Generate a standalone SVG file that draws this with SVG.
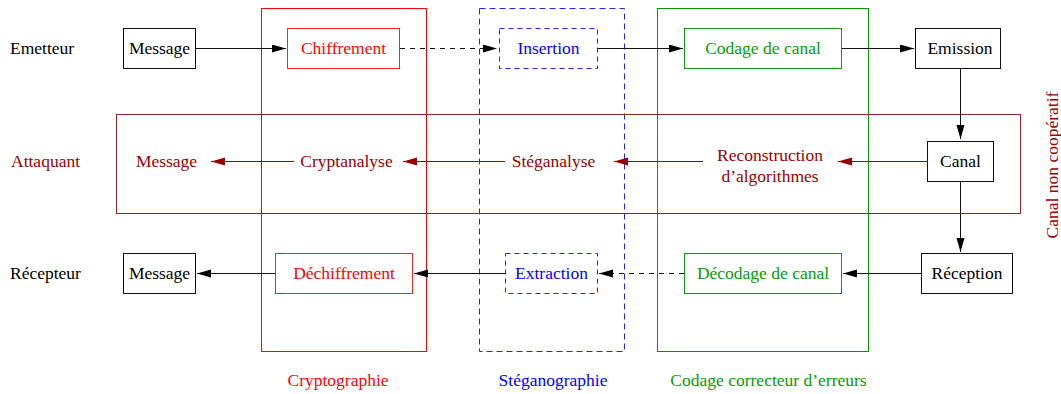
<svg xmlns="http://www.w3.org/2000/svg" width="1061" height="394" viewBox="0 0 1061 394">
<style>
text{font-family:"Liberation Serif","Times New Roman",serif;font-size:17.5px}
.c{text-anchor:middle}
.blk{fill:#000}
.red{fill:#ff0000}
.blu{fill:#0000ff}
.grn{fill:#00a000}
.dr{fill:#990000}
.box{fill:#fff;stroke:#111;stroke-width:1}
.rbox{fill:#fff;stroke:#ff2222;stroke-width:1}
.bbox{fill:#fff;stroke:#2222ff;stroke-width:1;stroke-dasharray:5 4}
.gbox{fill:#fff;stroke:#119911;stroke-width:1}
.grp{fill:none;stroke-width:1}
.ln{stroke:#111;stroke-width:1;fill:none}
.dash{stroke-dasharray:5 5}
.dln{stroke:#990000;stroke-width:1;fill:none}
</style>
<defs>
<marker id="ah" markerUnits="userSpaceOnUse" markerWidth="15" markerHeight="9" refX="14" refY="4" orient="auto"><path d="M0,0 L14,4 L0,8 z" fill="#000"/></marker>
<marker id="ahr" markerUnits="userSpaceOnUse" markerWidth="15" markerHeight="9" refX="14" refY="4" orient="auto"><path d="M0,0 L14,4 L0,8 z" fill="#990000"/></marker>
</defs>
<rect width="1061" height="394" fill="#fff"/>
<g id="groups">
<rect id="crypto" class="grp" x="261.5" y="8.5" width="165" height="343" stroke="#ff0000"/>
<rect id="stego" class="grp" x="479.5" y="8.5" width="145" height="343" stroke="#2222ff" stroke-dasharray="6 4"/>
<rect id="ecc" class="grp" x="657.5" y="8.5" width="211" height="343" stroke="#009900"/>
<rect id="attack" class="grp" x="116.5" y="114.5" width="904" height="99" stroke="#992222"/>
</g>
<g id="connectors">
<line class="ln" x1="196" y1="48.5" x2="286" y2="48.5" marker-end="url(#ah)"/>
<line class="ln dash" x1="400" y1="48.5" x2="497" y2="48.5" marker-end="url(#ah)"/>
<line class="ln" x1="598" y1="48.5" x2="683" y2="48.5" marker-end="url(#ah)"/>
<line class="ln" x1="842" y1="48.5" x2="914" y2="48.5" marker-end="url(#ah)"/>
<line class="ln" x1="960.5" y1="68" x2="960.5" y2="139" marker-end="url(#ah)"/>
<line class="ln" x1="960.5" y1="181" x2="960.5" y2="252" marker-end="url(#ah)"/>
<line class="ln" x1="921" y1="273.5" x2="843" y2="273.5" marker-end="url(#ah)"/>
<line class="ln dash" x1="684" y1="273.5" x2="599" y2="273.5" marker-end="url(#ah)"/>
<line class="ln" x1="505" y1="273.5" x2="414" y2="273.5" marker-end="url(#ah)"/>
<line class="ln" x1="275" y1="273.5" x2="197" y2="273.5" marker-end="url(#ah)"/>
<line class="dln" x1="927" y1="161.5" x2="838" y2="161.5" marker-end="url(#ahr)"/>
<line class="dln" x1="703" y1="161.5" x2="614" y2="161.5" marker-end="url(#ahr)"/>
<line class="dln" x1="505" y1="161.5" x2="403" y2="161.5" marker-end="url(#ahr)"/>
<line class="dln" x1="294" y1="161.5" x2="211" y2="161.5" marker-end="url(#ahr)"/>
</g>
<g id="row-labels">
<text class="blk" x="10" y="54">Emetteur</text>
<text class="dr" x="11" y="167">Attaquant</text>
<text class="blk" x="10" y="279">Récepteur</text>
</g>
<g id="msg-in"><rect class="box" x="123.5" y="28.5" width="72" height="40"/><text class="c blk" x="159.5" y="54">Message</text></g>
<g id="chiffrement"><rect class="rbox" x="287.5" y="28.5" width="112" height="40"/><text class="c red" x="343.5" y="54">Chiffrement</text></g>
<g id="insertion"><rect class="bbox" x="499.5" y="28.5" width="98" height="40"/><text class="c blu" x="548.5" y="54">Insertion</text></g>
<g id="codage"><rect class="gbox" x="684.5" y="28.5" width="157" height="40"/><text class="c grn" x="763" y="54">Codage de canal</text></g>
<g id="emission"><rect class="box" x="915.5" y="28.5" width="85" height="40"/><text class="c blk" x="960" y="54">Emission</text></g>
<g id="canal"><rect class="box" x="927.5" y="141.5" width="66" height="40"/><text class="c blk" x="960.5" y="167">Canal</text></g>
<g id="reception"><rect class="box" x="921.5" y="253.5" width="91" height="40"/><text class="c blk" x="967" y="279">Réception</text></g>
<g id="decodage"><rect class="gbox" x="684.5" y="253.5" width="157" height="40"/><text class="c grn" x="763" y="279">Décodage de canal</text></g>
<g id="extraction"><rect class="bbox" x="505.5" y="253.5" width="92" height="40"/><text class="c blu" x="551.5" y="279">Extraction</text></g>
<g id="dechiffrement"><rect class="rbox" x="275.5" y="253.5" width="137" height="40"/><text class="c red" x="344" y="279">Déchiffrement</text></g>
<g id="msg-out"><rect class="box" x="123.5" y="253.5" width="72" height="40"/><text class="c blk" x="159.5" y="279">Message</text></g>
<g id="reconstruction"><text class="c dr" x="770" y="161">Reconstruction</text><text class="c dr" x="770" y="181.5">d’algorithmes</text></g>
<g id="steganalyse"><text class="c dr" x="553.5" y="167">Stéganalyse</text></g>
<g id="cryptanalyse"><text class="c dr" x="346.5" y="167">Cryptanalyse</text></g>
<g id="msg-attack"><text class="c dr" x="166.5" y="167">Message</text></g>
<g id="group-labels">
<text class="c red" x="338" y="386">Cryptographie</text>
<text class="c blu" x="553" y="386">Stéganographie</text>
<text class="c grn" x="768.5" y="386">Codage correcteur d’erreurs</text>
<text class="c dr" transform="translate(1058,165) rotate(-90)">Canal non coopératif</text>
</g>
</svg>
